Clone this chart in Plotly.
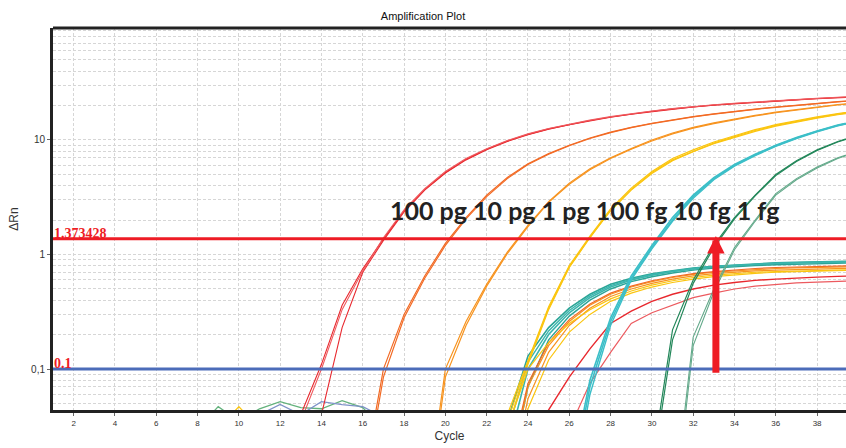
import math
import plotly.graph_objects as go

# ---------------- data ----------------
CYCLES = list(range(1, 41))
X_TICKS = [2, 4, 6, 8, 10, 12, 14, 16, 18, 20, 22, 24, 26, 28, 30, 32, 34, 36, 38]
Y_TICKS = [0.1, 1, 10]
Y_TICK_TEXT = ["0,1", "1", "10"]
Y_MINOR = [0.05, 0.06, 0.07, 0.08, 0.09, 0.2, 0.3, 0.4, 0.5, 0.6, 0.7, 0.8, 0.9,
           2, 3, 4, 5, 6, 7, 8, 9, 20, 30, 40, 50, 60, 70, 80, 90]
X_RANGE = [1, 39.4]
Y_RANGE = [0.0439, 95]

THRESHOLD = 1.373428
BASELINE_THRESHOLD = 0.1

# each series ends at cycle 40; values before its first cycle are below the axis
red_100pg_a = [0.04, 0.11, 0.36, 0.75, 1.37, 2.4, 3.7, 5.2, 6.8, 8.3, 9.8, 11.2, 12.5, 13.7,
               14.8, 15.9, 16.9, 17.8, 18.7, 19.5, 20.2, 20.8, 21.4, 22.0, 22.5, 23.0, 23.5, 23.9]
red_100pg_b = [0.04, 0.23, 0.7, 1.33, 2.35, 3.65, 5.15, 6.7, 8.2, 9.7, 11.1, 12.4, 13.6, 14.7,
               15.8, 16.8, 17.7, 18.6, 19.4, 20.1, 20.7, 21.3, 21.9, 22.4, 22.9, 23.4, 23.8]
red_100pg_c = [0.035, 0.1, 0.33, 0.72, 1.4, 2.45, 3.75, 5.3, 6.9, 8.4, 9.9, 11.3, 12.6, 13.8,
               14.9, 16.0, 17.0, 17.9, 18.8, 19.6, 20.3, 20.9, 21.5, 22.1, 22.6, 23.1, 23.6, 24.0]
orange_10pg_a = [0.01, 0.1, 0.3, 0.65, 1.25, 2.1, 3.3, 4.7, 6.2, 7.6, 9.0, 10.4, 11.7, 12.9,
                 14.0, 15.0, 16.0, 16.9, 17.8, 18.6, 19.4, 20.2, 20.9, 21.6, 22.3]
orange_10pg_b = [0.008, 0.085, 0.28, 0.62, 1.2, 2.05, 3.2, 4.6, 6.1, 7.5, 8.9, 10.3, 11.6, 12.8,
                 13.9, 14.9, 15.9, 16.8, 17.7, 18.5, 19.3, 20.1, 20.8, 21.5, 22.2]
orange_1pg_a = [0.005, 0.1, 0.26, 0.55, 1.05, 1.8, 2.9, 4.2, 5.6, 7.0, 8.4, 10.0, 11.5, 12.9,
                14.1, 15.3, 16.4, 17.5, 18.5, 19.5, 20.4, 21.2]
orange_1pg_b = [0.004, 0.085, 0.24, 0.53, 1.02, 1.75, 2.85, 4.1, 5.5, 6.9, 8.3, 9.8, 11.3, 12.7,
                13.9, 15.1, 16.2, 17.3, 18.3, 19.3, 20.2, 21.0]
yellow_100fg_a = [0.04, 0.12, 0.35, 0.8, 1.45, 2.5, 3.8, 5.3, 6.9, 8.2, 9.6, 10.9, 12.3, 13.6,
                  14.8, 15.9, 17.0, 18.0]
yellow_100fg_b = [0.03, 0.11, 0.33, 0.77, 1.4, 2.45, 3.7, 5.2, 6.7, 8.0, 9.4, 10.7, 12.1, 13.4,
                  14.6, 15.7, 16.8, 17.8]
yellow_100fg_c = [0.035, 0.115, 0.34, 0.78, 1.42, 2.4, 3.65, 5.1, 6.6, 7.9, 9.3, 10.6, 11.9, 13.2,
                  14.4, 15.5, 16.6, 17.6]
cyan_10fg_a = [0.01, 0.08, 0.28, 0.65, 1.2, 2.1, 3.3, 4.7, 6.1, 7.5, 9.0, 10.5, 12.0, 13.5, 14.8]
cyan_10fg_b = [0.008, 0.07, 0.26, 0.62, 1.15, 2.0, 3.2, 4.6, 6.0, 7.4, 8.9, 10.4, 11.9, 13.4, 14.7]
cyan_10fg_c = [0.006, 0.06, 0.24, 0.6, 1.12, 1.95, 3.1, 4.5, 5.9, 7.3, 8.8, 10.3, 11.8, 13.3, 14.6]
green_1fg_a = [0.015, 0.22, 0.6, 1.2, 2.1, 3.3, 5.0, 6.6, 8.2, 9.7, 11.0]
green_1fg_b = [0.012, 0.18, 0.56, 1.15, 2.05, 3.25, 4.9, 6.5, 8.1, 9.6, 10.9]
green_1fg_c = [0.005, 0.19, 0.5, 1.15, 2.0, 3.4, 4.6, 5.8, 7.0, 8.0]
green_1fg_d = [0.004, 0.16, 0.47, 1.1, 1.95, 3.3, 4.5, 5.7, 6.9, 7.9]

teal_low_a = [0.035, 0.13, 0.23, 0.34, 0.45, 0.55, 0.62, 0.68, 0.72, 0.76, 0.79, 0.81, 0.83,
              0.845, 0.855, 0.865, 0.87, 0.875]
teal_low_b = [0.02, 0.1, 0.2, 0.31, 0.42, 0.52, 0.6, 0.66, 0.71, 0.75, 0.78, 0.8, 0.82,
              0.835, 0.845, 0.855, 0.86, 0.865]
teal_low_c = [0.01, 0.07, 0.18, 0.29, 0.4, 0.5, 0.58, 0.64, 0.69, 0.73, 0.76, 0.785, 0.8,
              0.815, 0.825, 0.835, 0.84, 0.845]
teal_low_d = [0.028, 0.115, 0.215, 0.325, 0.435, 0.535, 0.61, 0.67, 0.715, 0.755, 0.785, 0.805,
              0.825, 0.84, 0.85, 0.86, 0.865, 0.87]
orange_low_a = [0.01, 0.07, 0.16, 0.26, 0.36, 0.45, 0.52, 0.58, 0.63, 0.67, 0.7, 0.72, 0.74,
                0.755, 0.765, 0.775, 0.78, 0.785]
orange_low_b = [0.008, 0.055, 0.14, 0.24, 0.34, 0.43, 0.5, 0.56, 0.61, 0.65, 0.68, 0.7, 0.72,
                0.73, 0.74, 0.75, 0.755, 0.76]
orange_low_c = [0.012, 0.075, 0.17, 0.27, 0.37, 0.46, 0.53, 0.59, 0.64, 0.68, 0.71, 0.735,
                0.755, 0.77, 0.78, 0.79, 0.795, 0.8]
yellow_low_a = [0.03, 0.1, 0.17, 0.25, 0.33, 0.41, 0.48, 0.54, 0.59, 0.63, 0.66, 0.68, 0.7,
                0.71, 0.72, 0.73, 0.735, 0.74]
yellow_low_b = [0.005, 0.045, 0.12, 0.21, 0.3, 0.39, 0.46, 0.52, 0.57, 0.61, 0.64, 0.665,
                0.685, 0.7, 0.71, 0.72, 0.725, 0.73]
red_low_a = [0.02, 0.044, 0.085, 0.15, 0.25, 0.32, 0.39, 0.45, 0.5, 0.54, 0.57, 0.595, 0.61,
             0.625, 0.635, 0.645, 0.65]
red_low_b = [0.03, 0.075, 0.14, 0.25, 0.31, 0.36, 0.42, 0.46, 0.5, 0.53, 0.55, 0.565, 0.575,
             0.585, 0.59]

NOISE_CYCLES = [8, 9, 10, 11, 12, 13, 14, 15, 16, 17]
noise_green = [0.03, 0.047, 0.035, 0.045, 0.052, 0.046, 0.045, 0.053, 0.046, 0.03]
noise_blue = [0.03, 0.03, 0.035, 0.04, 0.049, 0.04, 0.052, 0.049, 0.047, 0.038]
noise_yellow = [0.03, 0.03, 0.047, 0.03, 0.03, 0.03, 0.03, 0.03, 0.03, 0.03]

LABEL_TEXT = "100 pg 10 pg 1 pg 100 fg 10 fg 1 fg"
LABEL_CYCLE = 26.75
LABEL_VALUE = 2.45
ARROW_CYCLE = 33.1
ARROW_FROM = 0.09
ARROW_TO = 1.45

# ---------------- styles ----------------
RED = "#e8282e"
ORANGE_RED = "#f26a24"
ORANGE = "#f7931e"
YELLOW = "#fbc50f"
CYAN = "#3cbfc8"
GREEN_DARK = "#23875a"
GREEN_LIGHT = "#63a98a"
TEAL = "#2ba597"
TEAL2 = "#3bb5ad"

series = [
    (teal_low_a, TEAL, 1.6), (teal_low_b, TEAL2, 1.6), (teal_low_c, TEAL, 1.4),
    (teal_low_d, TEAL2, 1.4),
    (orange_low_a, ORANGE, 1.2), (orange_low_b, ORANGE, 1.2), (orange_low_c, ORANGE_RED, 1.2),
    (yellow_low_a, YELLOW, 1.2), (yellow_low_b, YELLOW, 1.2),
    (red_low_a, RED, 1.4), (red_low_b, "#ec5a5f", 1.2),
    (red_100pg_a, RED, 1.1), (red_100pg_b, RED, 1.1), (red_100pg_c, "#ef5a5e", 1.1),
    (orange_10pg_a, ORANGE_RED, 1.2), (orange_10pg_b, ORANGE_RED, 1.2),
    (orange_1pg_a, ORANGE, 1.2), (orange_1pg_b, ORANGE, 1.2),
    (yellow_100fg_a, YELLOW, 1.2), (yellow_100fg_b, YELLOW, 1.2), (yellow_100fg_c, YELLOW, 1.2),
    (cyan_10fg_a, CYAN, 1.6), (cyan_10fg_b, CYAN, 1.6), (cyan_10fg_c, CYAN, 1.4),
    (green_1fg_a, GREEN_DARK, 1.2), (green_1fg_b, GREEN_DARK, 1.2),
    (green_1fg_c, GREEN_LIGHT, 1.1), (green_1fg_d, GREEN_LIGHT, 1.1),
]

fig = go.Figure()

for vals, col, w in [(noise_green, "#63b27c", 1.3), (noise_blue, "#7f93c8", 1.3),
                     (noise_yellow, YELLOW, 1.3)]:
    fig.add_trace(go.Scatter(x=NOISE_CYCLES, y=vals, mode="lines",
                             line=dict(color=col, width=w), hoverinfo="skip"))

for vals, col, w in series:
    fig.add_trace(go.Scatter(x=CYCLES[-len(vals):], y=vals, mode="lines",
                             line=dict(color=col, width=w), hoverinfo="skip"))

# threshold lines
fig.add_trace(go.Scatter(x=X_RANGE, y=[THRESHOLD, THRESHOLD], mode="lines",
                         line=dict(color="#ee1c25", width=3), hoverinfo="skip"))
fig.add_trace(go.Scatter(x=X_RANGE, y=[BASELINE_THRESHOLD, BASELINE_THRESHOLD], mode="lines",
                         line=dict(color="#4c6cb9", width=3), hoverinfo="skip"))

fig.add_annotation(x=0, xref="paper", y=math.log10(THRESHOLD), yref="y",
                   xanchor="left", yanchor="bottom", yshift=-3, showarrow=False,
                   text=f"{THRESHOLD}", borderpad=0,
                   font=dict(family="Liberation Serif", size=14, color="#ee1c25", weight="bold"))
fig.add_annotation(x=0, xref="paper", y=math.log10(BASELINE_THRESHOLD), yref="y",
                   xanchor="left", yanchor="bottom", yshift=-3, showarrow=False,
                   text="0.1", borderpad=0,
                   font=dict(family="Liberation Serif", size=14, color="#ee1c25", weight="bold"))

fig.add_annotation(x=LABEL_CYCLE, y=math.log10(LABEL_VALUE), xref="x", yref="y",
                   text=f"<b>{LABEL_TEXT}</b>", showarrow=False,
                   font=dict(family="Lato", size=25, color="#222222"))

fig.add_annotation(x=ARROW_CYCLE, y=math.log10(ARROW_TO), ax=ARROW_CYCLE,
                   ay=math.log10(ARROW_FROM), xref="x", yref="y", axref="x", ayref="y",
                   text="", showarrow=True, arrowhead=2, arrowsize=0.5, arrowwidth=7,
                   arrowcolor="#ee1c25", standoff=0, startstandoff=0)

# top frame line
fig.add_shape(type="line", xref="paper", yref="paper", x0=0, x1=1, y0=1, y1=1,
              line=dict(color="#222222", width=3))

grid = dict(gridcolor="#d6d6d6", gridwidth=1, griddash="3px,2px")

fig.update_layout(
    width=846, height=448,
    margin=dict(l=53, r=0, t=28, b=38),
    paper_bgcolor="white", plot_bgcolor="white",
    showlegend=False,
    title=dict(text="Amplification Plot", x=0.5, xref="container", xanchor="center",
               y=1 - 16 / 448, yref="container", yanchor="middle",
               font=dict(family="Liberation Sans", size=11, color="#111111")),
    xaxis=dict(range=X_RANGE, tickvals=X_TICKS, ticks="outside", ticklen=3,
               tickcolor="#666666", tickfont=dict(family="Liberation Sans", size=8, color="#333333"),
               showgrid=True, **grid, zeroline=False,
               showline=True, linewidth=3, linecolor="#222222",
               title=dict(text="Cycle", standoff=6,
                          font=dict(family="Liberation Sans", size=12, color="#333333"))),
    yaxis=dict(type="log", range=[math.log10(Y_RANGE[0]), math.log10(Y_RANGE[1])],
               tickvals=Y_TICKS, ticktext=Y_TICK_TEXT, ticks="outside", ticklen=3,
               tickcolor="#666666", tickfont=dict(family="Liberation Sans", size=10, color="#333333"),
               showgrid=True, **grid, zeroline=False,
               minor=dict(tickvals=Y_MINOR, showgrid=True, **grid, ticks=""),
               showline=True, linewidth=3, linecolor="#222222",
               title=dict(text="ΔRn", standoff=10,
                          font=dict(family="Liberation Sans", size=12, color="#333333"))),
)

fig.write_html("out.html")
